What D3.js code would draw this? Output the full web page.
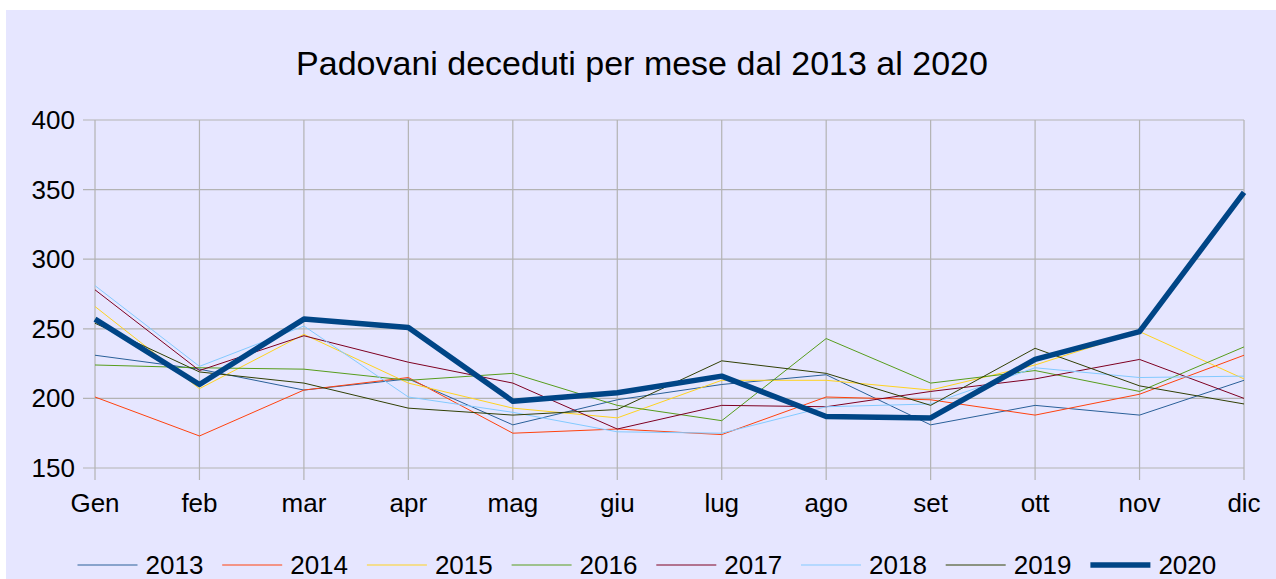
<script src="https://d3js.org/d3.v7.min.js"></script>
<style>
  body { margin: 0; background: #fff; }
  text { font-family: "Liberation Sans", Arial, sans-serif; fill: #000; }
</style>
<body>
<svg id="chart"></svg>
</body>
<script>
var mesi = ["Gen", "feb", "mar", "apr", "mag", "giu", "lug", "ago", "set", "ott", "nov", "dic"];
var anni = ["2013", "2014", "2015", "2016", "2017", "2018", "2019", "2020"];
var yTicks = [150, 200, 250, 300, 350, 400];

var d2013 = [231, 221, 206, 214, 181, 199, 210, 217, 181, 195, 188, 213];
var d2014 = [201, 173, 206, 215, 175, 178, 174, 201, 199, 188, 203, 231];
var d2015 = [266, 207, 246, 211, 193, 186, 213, 213, 206, 224, 248, 214];
var d2016 = [224, 222, 221, 213, 218, 195, 184, 243, 211, 220, 205, 237];
var d2017 = [278, 220, 245, 226, 211, 178, 195, 194, 205, 214, 228, 200];
var d2018 = [281, 223, 252, 201, 190, 176, 175, 194, 196, 222, 215, 216];
var d2019 = [254, 219, 211, 193, 188, 192, 227, 218, 195, 236, 209, 196];
var d2020 = [257, 210, 257, 251, 198, 204, 216, 187, 186, 228, 248, 348];

var serie = [d2013, d2014, d2015, d2016, d2017, d2018, d2019, d2020];
var colori = ["#2a6099", "#ff420e", "#ffd320", "#579d1c", "#7e0021", "#83caff", "#314004", "#004586"];
var spessori = [1, 1, 1, 1, 1, 1, 1, 5.5];

var W = 1276, H = 579;
var svg = d3.select("#chart").attr("width", W).attr("height", H);

svg.append("rect").attr("x", 6).attr("y", 10).attr("width", W - 6).attr("height", H - 10)
  .attr("fill", "#e6e6ff");

svg.append("text").attr("x", 642).attr("y", 75).attr("text-anchor", "middle")
  .style("font-size", "34px").text("Padovani deceduti per mese dal 2013 al 2020");

var x = d3.scalePoint().domain(mesi).range([95, 1244]);
var y = d3.scaleLinear().domain([150, 400]).range([468, 120]);

// griglia orizzontale + tick y
svg.append("g").selectAll("line").data(yTicks).enter().append("line")
  .attr("x1", 83).attr("x2", 1244)
  .attr("y1", function(d) { return y(d); }).attr("y2", function(d) { return y(d); })
  .attr("stroke", "#b3b3b3").attr("stroke-width", 1.2);

// griglia verticale
svg.append("g").selectAll("line").data(mesi).enter().append("line")
  .attr("x1", function(d) { return x(d); }).attr("x2", function(d) { return x(d); })
  .attr("y1", 120).attr("y2", 480)
  .attr("stroke", "#b3b3b3").attr("stroke-width", 1.2);

svg.append("g").selectAll("text").data(yTicks).enter().append("text")
  .attr("x", 75).attr("y", function(d) { return y(d) + 9; })
  .attr("text-anchor", "end").style("font-size", "26px")
  .text(function(d) { return d; });

svg.append("g").selectAll("text").data(mesi).enter().append("text")
  .attr("x", function(d) { return x(d); }).attr("y", 512)
  .attr("text-anchor", "middle").style("font-size", "26px")
  .text(function(d) { return d; });

var line = d3.line()
  .x(function(d, i) { return x(mesi[i]); })
  .y(function(d) { return y(d); });

serie.forEach(function(s, k) {
  svg.append("path").datum(s)
    .attr("fill", "none")
    .attr("stroke", colori[k])
    .attr("stroke-width", spessori[k])
    .attr("stroke-linejoin", "round")
    .attr("d", line);
});

// legenda
var leg = svg.append("g").selectAll("g").data(anni).enter().append("g")
  .attr("transform", function(d, i) { return "translate(" + (77.5 + i * 144.7) + ",565)"; });
leg.append("line").attr("x1", 0).attr("x2", 60).attr("y1", 0).attr("y2", 0)
  .attr("stroke", function(d, i) { return colori[i]; })
  .attr("stroke-width", function(d, i) { return spessori[i]; });
leg.append("text").attr("x", 68).attr("y", 9).style("font-size", "26px")
  .text(function(d) { return d; });
</script>
